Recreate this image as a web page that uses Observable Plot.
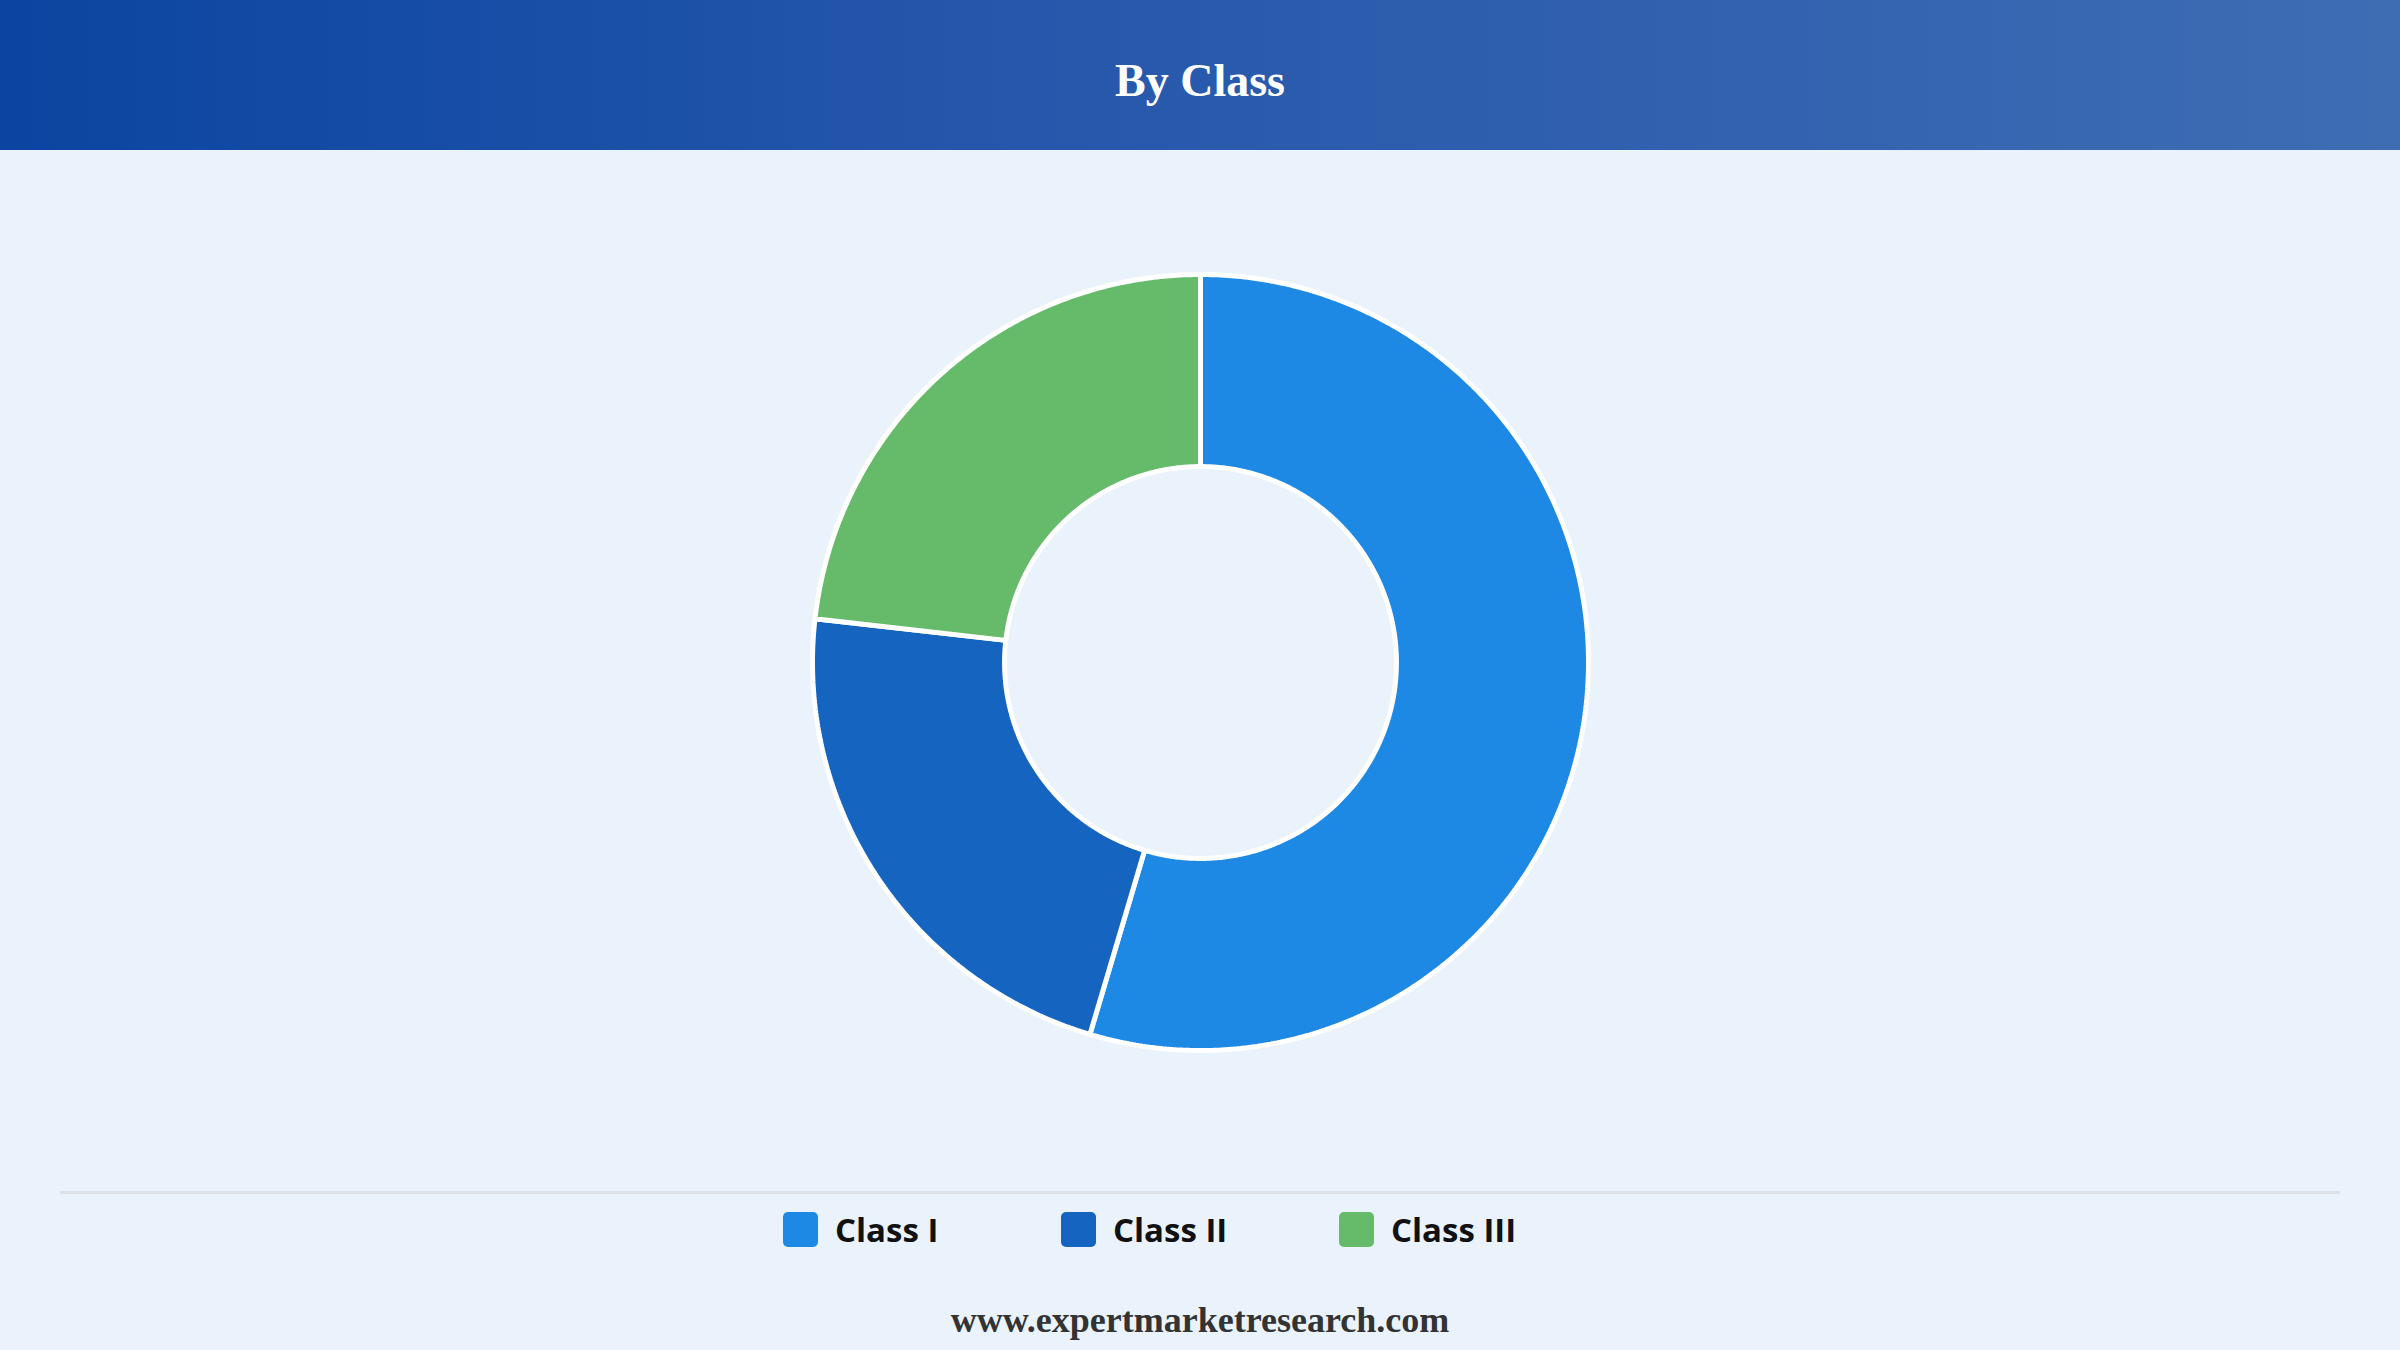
<!DOCTYPE html>
<html>
<head>
<meta charset="utf-8">
<script src="https://cdn.jsdelivr.net/npm/d3@7"></script>
<script src="https://cdn.jsdelivr.net/npm/@observablehq/plot@0.6"></script>
<style>
  html, body { margin: 0; padding: 0; width: 2400px; height: 1350px; background: #eaf2fb; overflow: hidden; position: relative; }
  #header { position: absolute; left: 0; top: 0; width: 2400px; height: 150px; background: linear-gradient(90deg, #0b45a1 0%, #2456ab 40%, #3e6db4 100%); }
  #title { position: absolute; left: 0; width: 2400px; top: 58px; text-align: center; margin: 0; font-family: "Liberation Serif", "Times New Roman", serif; font-weight: 700; font-size: 46px; line-height: 46px; color: #fff; }
  #chart { position: absolute; left: 0; top: 150px; width: 2400px; height: 1030px; }
  #rule { position: absolute; left: 60px; width: 2280px; top: 1191px; height: 3px; background: #dde0e4; }
  #legend { position: absolute; left: 0; width: 2400px; top: 1212px; height: 35px; display: flex; justify-content: center; }
  .item { width: 278px; display: flex; align-items: center; height: 35px; }
  .sw { width: 35px; height: 35px; border-radius: 5px; margin-right: 17px; flex: none; }
  .lab { font-family: "Open Sans", "Noto Sans", sans-serif; font-weight: 700; font-size: 33px; color: #111; white-space: nowrap; }
  #footer { position: absolute; left: 0; width: 2400px; top: 1302px; text-align: center; font-family: "Liberation Serif", "Times New Roman", serif; font-weight: 700; font-size: 36px; line-height: 36px; color: #333; }
</style>
</head>
<body>
<div id="header"><h1 id="title">By Class</h1></div>
<div id="chart"></div>
<div id="rule"></div>
<div id="legend"></div>
<div id="footer">www.expertmarketresearch.com</div>
<script>
const categories = ["Class I", "Class II", "Class III"];
const shares = [54.6, 22.2, 23.2];
const colors = ["#1e88e5", "#1565c0", "#66bb6a"];

const innerRatio = 0.505;
const pie = d3.pie().sort(null).startAngle(0).endAngle(2 * Math.PI)(shares);

// build ring-segment outlines from the pie angles
const pts = [];
pie.forEach((p, i) => {
  const n = Math.max(8, Math.ceil((p.endAngle - p.startAngle) / (Math.PI / 360)));
  const ring = [];
  for (let k = 0; k <= n; k++) {
    const a = p.startAngle + (p.endAngle - p.startAngle) * k / n;
    ring.push({a, r: 1});
  }
  for (let k = n; k >= 0; k--) {
    const a = p.startAngle + (p.endAngle - p.startAngle) * k / n;
    ring.push({a, r: innerRatio});
  }
  ring.forEach((q, j) => pts.push({cat: categories[i], x: q.r * Math.sin(q.a), y: q.r * Math.cos(q.a), j}));
});

const cx = 1200, cy = 512, R = 388;
const plot = Plot.plot({
  width: 2400,
  height: 1030,
  margin: 0,
  style: { background: "transparent", overflow: "visible" },
  x: { domain: [-1, 1], range: [cx - R, cx + R], axis: null },
  y: { domain: [-1, 1], range: [cy + R, cy - R], axis: null },
  color: { domain: categories, range: colors },
  marks: [
    Plot.line(pts, {
      x: "x", y: "y", z: "cat", fill: "cat",
      stroke: "#ffffff", strokeWidth: 5, strokeLinejoin: "miter",
      curve: "linear-closed"
    })
  ]
});
document.getElementById("chart").appendChild(plot);

const legend = document.getElementById("legend");
categories.forEach((c, i) => {
  const it = document.createElement("div");
  it.className = "item";
  it.innerHTML = `<div class="sw" style="background:${colors[i]}"></div><span class="lab">${c}</span>`;
  legend.appendChild(it);
});
</script>
</body>
</html>
